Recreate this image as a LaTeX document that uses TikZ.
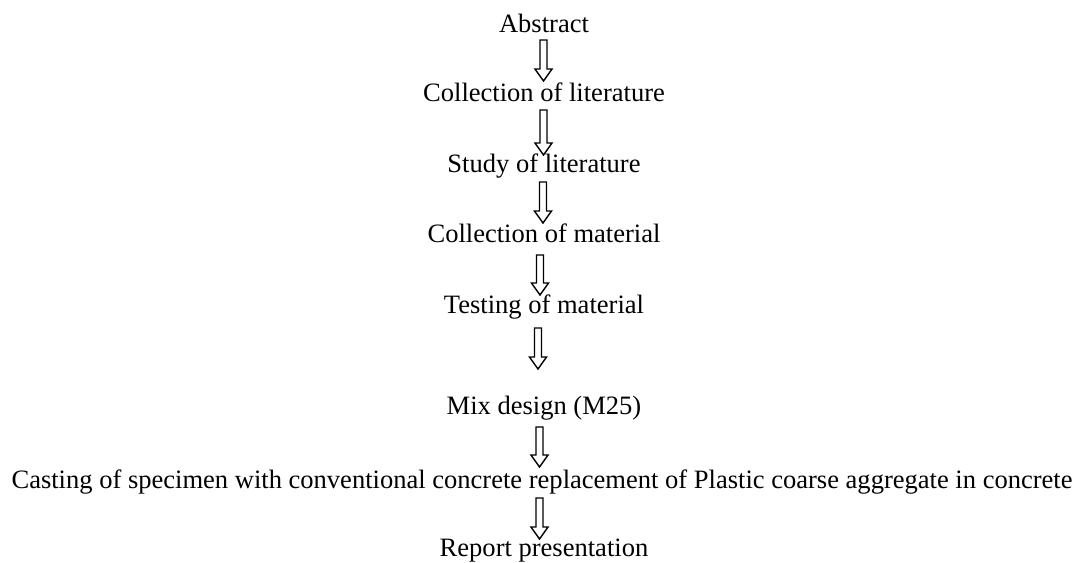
\documentclass[tikz,border=0pt]{standalone}
\usepackage{fontspec}
\setmainfont{Liberation Serif}
\usetikzlibrary{calc}
\begin{document}
\begin{tikzpicture}[x=0.75pt,y=-0.75pt,
  lbl/.style={inner sep=0pt, anchor=base, font=\fontsize{19.9}{24}\selectfont},
  barrow/.style={draw, line width=1.05pt, line join=miter,
    to path={let \p1=(\tikztostart), \p2=(\tikztotarget) in
      (\x1-2.6pt,\y1) -- (\x1-2.6pt,\y2+9pt) -- (\x1-6.4pt,\y2+9pt) -- (\x2,\y2)
      -- (\x1+6.4pt,\y2+9pt) -- (\x1+2.6pt,\y2+9pt) -- (\x1+2.6pt,\y1) -- cycle}}]
\useasboundingbox (0,0) rectangle (1081,562);
\fill[white] (0,0) rectangle (1081,562);
\node[lbl] (t1) at (544,32) {Abstract};
\node[lbl] (t2) at (544,101) {Collection of literature};
\node[lbl] (t3) at (544,172) {Study of literature};
\node[lbl] (t4) at (544,242) {Collection of material};
\node[lbl] (t5) at (544,313) {Testing of material};
\node[lbl] (t6) at (544,414) {Mix design (M25)};
\node[lbl] (t7) at (542,488) {Casting of specimen with conventional concrete replacement of Plastic coarse aggregate in concrete};
\node[lbl] (t8) at (544,556) {Report presentation};
\coordinate (a1s) at (543.5,40);  \coordinate (a1e) at (543.5,81);
\coordinate (a2s) at (543.5,110); \coordinate (a2e) at (543.5,155);
\coordinate (a3s) at (543,182);   \coordinate (a3e) at (543,223);
\coordinate (a4s) at (540,255);   \coordinate (a4e) at (540,295);
\coordinate (a5s) at (538,328);   \coordinate (a5e) at (538,369);
\coordinate (a6s) at (539.5,427); \coordinate (a6e) at (539.5,467);
\coordinate (a7s) at (539.5,498); \coordinate (a7e) at (539.5,539);
\draw[barrow] (a1s) to (a1e);
\draw[barrow] (a2s) to (a2e);
\draw[barrow] (a3s) to (a3e);
\draw[barrow] (a4s) to (a4e);
\draw[barrow] (a5s) to (a5e);
\draw[barrow] (a6s) to (a6e);
\draw[barrow] (a7s) to (a7e);
\end{tikzpicture}
\end{document}
